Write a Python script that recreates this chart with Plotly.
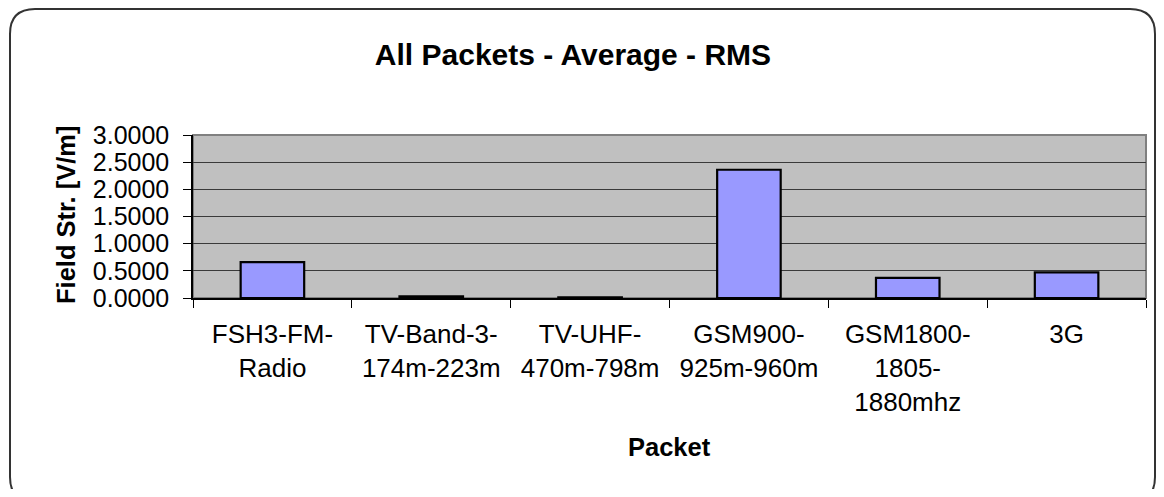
import plotly.graph_objects as go

categories = [
    "FSH3-FM-<br>Radio",
    "TV-Band-3-<br>174m-223m",
    "TV-UHF-<br>470m-798m",
    "GSM900-<br>925m-960m",
    "GSM1800-<br>1805-<br>1880mhz",
    "3G",
]
values = [0.66, 0.03, 0.01, 2.36, 0.37, 0.47]
y_ticks = [0.0, 0.5, 1.0, 1.5, 2.0, 2.5, 3.0]

title_text = "All Packets - Average - RMS"
x_title = "Packet"
y_title = "Field Str. [V/m]"

FONT = "Liberation Sans, Arial, sans-serif"

# page is 1164x497, the html body adds an 8px margin on every side
OFF = 8
W, H = 1164 - 2 * OFF, 497 - 2 * OFF
L, R, T, B = 193 - OFF, 10, 135 - OFF, 0
PB = 298 - OFF                    # plot bottom (fig px)
B = H - PB
PW = W - L - R
PH = PB - T

fig = go.Figure()
fig.add_trace(go.Bar(
    x=categories, y=values,
    marker=dict(color="#9999FF", line=dict(color="#000000", width=2.2)),
    hoverinfo="x+y",
))

# outer rounded border, pixel offsets from the plot origin (up = positive)
lft = (10 - OFF) - L
rgt = (1155 - OFF) - L
top = PB - (9 - OFF)
bot = PB - (502 - OFF)
r = 25
path = (f"M {lft+r},{top} L {rgt-r},{top} Q {rgt},{top} {rgt},{top-r} "
        f"L {rgt},{bot+r} Q {rgt},{bot} {rgt-r},{bot} L {lft+r},{bot} "
        f"Q {lft},{bot} {lft},{bot+r} L {lft},{top-r} Q {lft},{top} {lft+r},{top} Z")

fig.update_layout(
    width=W, height=H,
    margin=dict(l=L, r=R, t=T, b=B, pad=0),
    paper_bgcolor="white",
    plot_bgcolor="#C0C0C0",
    showlegend=False,
    bargap=0.6,
    font=dict(family=FONT, color="#000000"),
    title=dict(text=f"<b>{title_text}</b>", x=(573 - OFF) / W, xref="container", xanchor="center",
               y=1 - (54.5 - OFF) / H, yref="container", yanchor="middle",
               font=dict(size=30, family=FONT, color="#000000")),
    shapes=[
        dict(type="path", xref="paper", yref="paper", xsizemode="pixel", ysizemode="pixel",
             xanchor=0, yanchor=0, path=path, line=dict(color="#333333", width=2),
             fillcolor="rgba(0,0,0,0)", layer="below"),
        dict(type="rect", xref="paper", yref="paper", x0=0, x1=1, y0=0, y1=1,
             line=dict(color="#808080", width=2), fillcolor="rgba(0,0,0,0)", layer="below"),
    ],
    annotations=[
        dict(text=f"<b>{y_title}</b>", xref="paper", yref="paper",
             x=((66 - OFF) - L) / PW, y=(PB - (215 - OFF)) / PH, textangle=-90, showarrow=False,
             xanchor="center", yanchor="middle", font=dict(size=25.5, family=FONT)),
        dict(text=f"<b>{x_title}</b>", xref="paper", yref="paper",
             x=0.5, y=(PB - (447 - OFF)) / PH, showarrow=False,
             xanchor="center", yanchor="middle", font=dict(size=25.5, family=FONT)),
    ],
)

fig.update_xaxes(
    type="category", showgrid=False, showline=True, linecolor="#000000", linewidth=1.5,
    ticks="outside", tickson="boundaries", ticklen=8, tickcolor="#000000", tickwidth=1,
    ticklabelstandoff=12,
    tickfont=dict(size=26, family=FONT, color="#000000"), fixedrange=True,
)
fig.update_yaxes(
    range=[0, 3], tickvals=y_ticks, tickformat=".4f",
    showgrid=True, gridcolor="#3a3a3a", gridwidth=1,
    showline=True, linecolor="#000000", linewidth=1.5, zeroline=False,
    ticks="outside", ticklen=8, tickcolor="#000000", tickwidth=1,
    ticklabelstandoff=9,
    tickfont=dict(size=25, family=FONT, color="#000000"), fixedrange=True,
)

fig.write_html("out.html", config={"displayModeBar": False})
